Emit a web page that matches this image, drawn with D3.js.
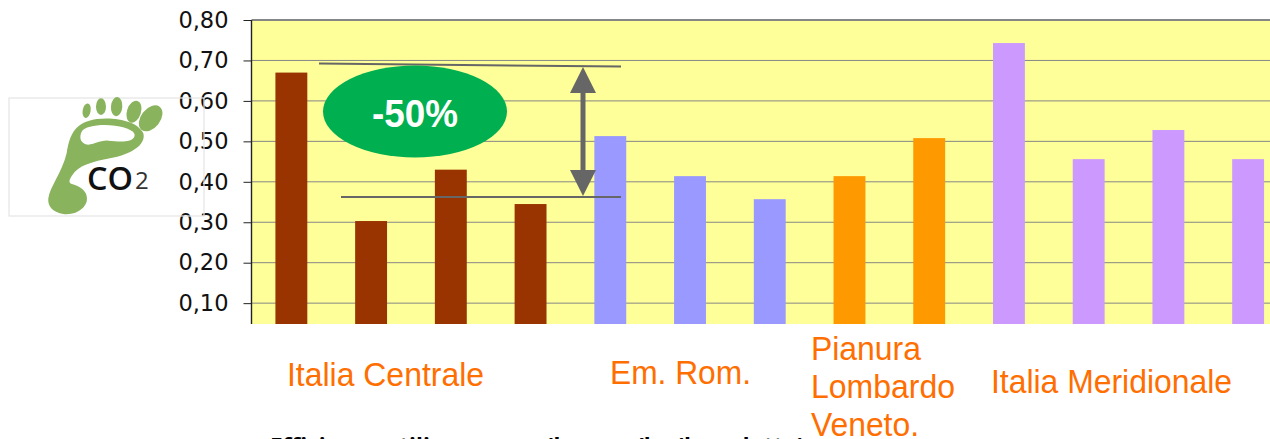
<!DOCTYPE html>
<html><head><meta charset="utf-8">
<script src="https://cdnjs.cloudflare.com/ajax/libs/d3/7.8.5/d3.min.js"></script>
<style>html,body{margin:0;padding:0;background:#fff;overflow:hidden}svg{display:block}</style>
</head><body><div id="c"></div>
<script>
const values = [0.67,0.303,0.43,0.345,0.513,0.414,0.357,0.414,0.508,0.743,0.456,0.528,0.456];
const groups = ["Centrale","Centrale","Centrale","Centrale","EmRom","EmRom","EmRom","Pianura","Pianura","Meridionale","Meridionale","Meridionale","Meridionale"];
const groupNames = ["Centrale","EmRom","Pianura","Meridionale"];
const groupColors = ["#993300","#9999FF","#FF9900","#CC99FF"];
const tickValues = [0.1,0.2,0.3,0.4,0.5,0.6,0.7,0.8];
const regionLabels = [
  {lines:["Italia Centrale"],x:287,y:386,w:197},
  {lines:["Em. Rom."],x:610,y:384,w:141},
  {lines:["Pianura"],x:811,y:360,w:110},
  {lines:["Lombardo"],x:811,y:398,w:144},
  {lines:["Veneto."],x:811,y:436,w:108},
  {lines:["Italia Meridionale"],x:991,y:393,w:241}
];
const W=1270,H=439;
const svg=d3.select("#c").append("svg").attr("width",W).attr("height",H);
const L=251.5,R=1288,T=20,B=324;
const x=d3.scaleBand().domain(d3.range(values.length)).range([L,R]).paddingInner(0.6).paddingOuter(0.3);
const y=d3.scaleLinear().domain([0,0.8]).range([343.6,T]);
const color=d3.scaleOrdinal(groupNames,groupColors);
svg.append("defs").append("clipPath").attr("id","plot").append("rect").attr("x",0).attr("y",0).attr("width",W).attr("height",B);
const plot=svg.append("g").attr("clip-path","url(#plot)");
plot.append("rect").attr("x",L).attr("y",T).attr("width",W-L).attr("height",B-T).attr("fill","#FFFF99");
plot.append("g").selectAll("line").data(tickValues).join("line")
  .attr("x1",L).attr("x2",W).attr("y1",d=>y(d)).attr("y2",d=>y(d))
  .attr("stroke","#868686").attr("stroke-width",d=>d===0.8?2:1);
plot.append("g").selectAll("rect").data(values).join("rect")
  .attr("x",(d,i)=>x(i)).attr("width",x.bandwidth())
  .attr("y",d=>y(d)).attr("height",d=>y(0)-y(d))
  .attr("fill",(d,i)=>color(groups[i]));
const axis=d3.axisLeft(y).tickValues(tickValues).tickSize(8).tickPadding(15).tickFormat(d=>d3.format(".2f")(d).replace(".",","));
const ag=plot.append("g").attr("transform",`translate(${L},0)`).call(axis);
ag.select(".domain").remove();
ag.append("line").attr("x1",0).attr("x2",0).attr("y1",T).attr("y2",B).attr("stroke","#222").attr("stroke-width",1.4);
ag.selectAll(".tick line").attr("stroke","#222");
ag.selectAll("text").attr("fill","#111").style("font-family","'DejaVu Sans',sans-serif").style("font-size","22.5px");

// logo
const logo=svg.append("g");
logo.append("rect").attr("x",9).attr("y",98).attr("width",195).attr("height",118).attr("fill","none").attr("stroke","#e4e4e4").attr("stroke-width",1.2);
const foot=logo.append("g").attr("transform","translate(0,90) scale(0.3333)").attr("fill","#8AB35E");
[[260,62,12,22,10],[303,50,15,25,0],[350,50,17,29,5],[402,65,21,34,18],[452,85,29,44,38]].forEach(e=>{
  foot.append("ellipse").attr("cx",e[0]).attr("cy",e[1]).attr("rx",e[2]).attr("ry",e[3]).attr("transform",`rotate(${e[4]} ${e[0]} ${e[1]})`);
});
foot.append("path").attr("fill-rule","evenodd").attr("d","M145,325 C150,290 185,250 200,190 C210,130 225,98 290,87 C350,80 415,95 430,130 C440,165 390,195 330,205 C280,215 235,225 215,258 C205,275 205,280 225,285 C250,295 265,310 260,335 C250,365 215,375 190,372 C160,368 142,350 145,325 Z M245,125 C255,108 300,102 345,107 C385,113 410,125 403,140 C395,158 360,155 325,152 C295,150 275,170 255,162 C240,155 238,140 245,125 Z");
logo.append("text").attr("x",87).attr("y",190).attr("font-family","'Open Sans',sans-serif").attr("font-size",32).attr("font-weight",600).attr("fill","#111").attr("textLength",46).attr("lengthAdjust","spacingAndGlyphs").text("CO");
logo.append("text").attr("x",135).attr("y",189).attr("font-family","'Open Sans',sans-serif").attr("font-size",24).attr("fill","#333").text("2");

// annotation
const ann=svg.append("g").attr("stroke","#666");
ann.append("line").attr("x1",319).attr("y1",63.5).attr("x2",621).attr("y2",66.5).attr("stroke-width",2);
ann.append("line").attr("x1",341).attr("y1",197).attr("x2",621).attr("y2",197).attr("stroke-width",2);
ann.append("line").attr("x1",583).attr("y1",85).attr("x2",583).attr("y2",180).attr("stroke-width",5);
ann.append("path").attr("d","M583,67 L596,93 L570,93 Z M583,196 L596,170 L570,170 Z").attr("fill","#666").attr("stroke","none");
svg.append("ellipse").attr("cx",415).attr("cy",111.5).attr("rx",92).attr("ry",46).attr("fill","#00B050");
svg.append("text").attr("x",372).attr("y",127).attr("font-family","'Liberation Sans',Arial,sans-serif").attr("font-weight",700).attr("font-size",39).attr("fill","#fff").attr("textLength",86).attr("lengthAdjust","spacingAndGlyphs").text("-50%");

// region labels
regionLabels.forEach(r=>{
  r.lines.forEach(t=>{
    svg.append("text").attr("x",r.x).attr("y",r.y).attr("font-family","'Liberation Sans',Arial,sans-serif").attr("font-size",34).attr("fill","#FF6E00")
      .attr("textLength",r.w).attr("lengthAdjust","spacingAndGlyphs").text(t);
  });
});
svg.append("text").attr("x",270).attr("y",452).attr("font-family","'Open Sans',sans-serif").attr("font-weight",700).attr("font-size",20).attr("fill","#000")
  .attr("textLength",535).attr("lengthAdjust","spacingAndGlyphs").text("Efficienza utilizzo acqua (l acqua/kg (l prodotto)");
</script></body></html>
